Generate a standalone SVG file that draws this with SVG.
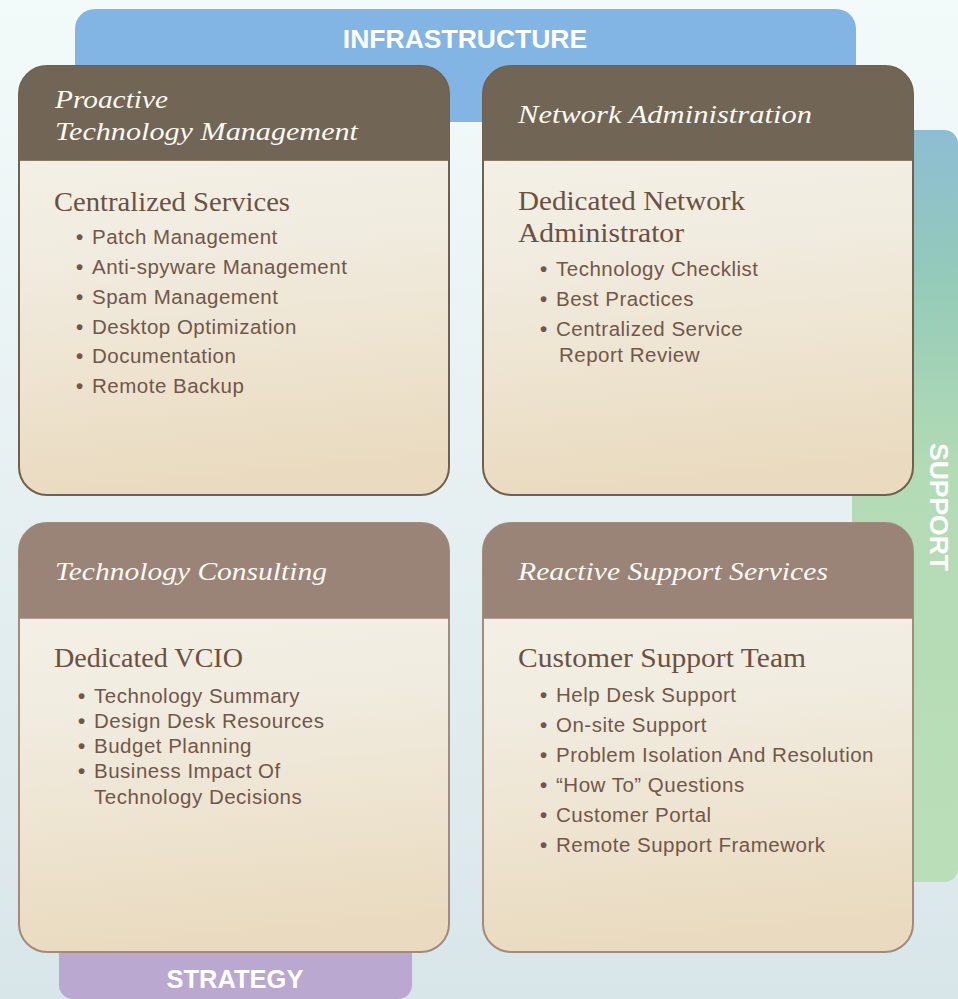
<svg xmlns="http://www.w3.org/2000/svg" width="958" height="999" viewBox="0 0 958 999">
<defs>
<linearGradient id="bg" x1="0" y1="0" x2="0" y2="1">
<stop offset="0" stop-color="#f3fafa"/>
<stop offset="1" stop-color="#d9e6e9"/>
</linearGradient>
<linearGradient id="sup" x1="0" y1="0" x2="0" y2="1">
<stop offset="0" stop-color="#8dbdd3"/>
<stop offset="0.2" stop-color="#94cbb8"/>
<stop offset="0.45" stop-color="#b3dbb5"/>
<stop offset="1" stop-color="#badeb8"/>
</linearGradient>
<linearGradient id="body" x1="0" y1="0" x2="0.1" y2="1">
<stop offset="0" stop-color="#f5f3e9"/>
<stop offset="0.45" stop-color="#f1ece0"/>
<stop offset="1" stop-color="#eadbc0"/>
</linearGradient>
<style>
.bar{font-family:"Liberation Sans",Arial,sans-serif;font-weight:bold;fill:#ffffff;font-size:26.5px}
.hd{font-family:"Liberation Serif","Times New Roman",serif;font-style:italic;fill:#fbf9f3;font-size:26px}
.sh{font-family:"Liberation Serif","Times New Roman",serif;fill:#6b5142;font-size:27px}
.bl{font-family:"Liberation Sans",Arial,sans-serif;fill:#715749;font-size:20.5px;letter-spacing:0.5px}
.dot{font-weight:bold}
.cardT{fill:url(#body);stroke:#6f604f;stroke-width:2}
.cardB{fill:url(#body);stroke:#a08b7d;stroke-width:2}
.hT{fill:#716556}
.hB{fill:#9a8477}
</style>
</defs>
<rect x="0" y="0" width="958" height="999" fill="url(#bg)"/>
<g id="infrastructure">
<rect x="75" y="9" width="781" height="113" rx="20" fill="#82b5e4"/>
<text class="bar" x="465" y="48" text-anchor="middle">INFRASTRUCTURE</text>
</g>
<g id="support">
<rect x="852" y="130" width="106" height="752" rx="14" fill="url(#sup)"/>
<text class="bar" transform="translate(930,507) rotate(90)" text-anchor="middle">SUPPORT</text>
</g>
<g id="strategy">
<rect x="59" y="900" width="353" height="99" rx="14" fill="#bba8d1"/>
<text class="bar" x="235" y="988" text-anchor="middle" style="font-size:25.5px">STRATEGY</text>
</g>
<g id="connectors"></g>
<g id="proactive">
<rect class="cardT" x="19" y="66" width="430" height="429" rx="28"/>
<path class="hT" d="M19,160 V94 A28,28 0 0 1 47,66 H421 A28,28 0 0 1 449,94 V160 Z"/>
<line x1="20" y1="160.5" x2="448" y2="160.5" stroke="#8a7a68" stroke-width="1"/>
<text class="hd" x="55" y="108" textLength="113" lengthAdjust="spacingAndGlyphs">Proactive</text>
<text class="hd" x="55" y="140" textLength="303" lengthAdjust="spacingAndGlyphs">Technology Management</text>
<text class="sh" x="54" y="211" textLength="236" lengthAdjust="spacingAndGlyphs">Centralized Services</text>
<g class="bl">
<text class="dot" x="76" y="244">•</text><text x="92" y="244">Patch Management</text>
<text class="dot" x="76" y="274">•</text><text x="92" y="274">Anti-spyware Management</text>
<text class="dot" x="76" y="304">•</text><text x="92" y="304">Spam Management</text>
<text class="dot" x="76" y="334">•</text><text x="92" y="334">Desktop Optimization</text>
<text class="dot" x="76" y="363">•</text><text x="92" y="363">Documentation</text>
<text class="dot" x="76" y="393">•</text><text x="92" y="393">Remote Backup</text>
</g>
</g>
<g id="network">
<rect class="cardT" x="483" y="66" width="430" height="429" rx="28"/>
<path class="hT" d="M483,160 V94 A28,28 0 0 1 511,66 H885 A28,28 0 0 1 913,94 V160 Z"/>
<line x1="484" y1="160.5" x2="912" y2="160.5" stroke="#8a7a68" stroke-width="1"/>
<text class="hd" x="518" y="123" textLength="294" lengthAdjust="spacingAndGlyphs">Network Administration</text>
<text class="sh" x="518" y="210" textLength="227" lengthAdjust="spacingAndGlyphs">Dedicated Network</text>
<text class="sh" x="518" y="242" textLength="166" lengthAdjust="spacingAndGlyphs">Administrator</text>
<g class="bl">
<text class="dot" x="540" y="276">•</text><text x="556" y="276">Technology Checklist</text>
<text class="dot" x="540" y="306">•</text><text x="556" y="306">Best Practices</text>
<text class="dot" x="540" y="336">•</text><text x="556" y="336">Centralized Service</text>
<text x="559" y="362">Report Review</text>
</g>
</g>
<g id="consulting">
<rect class="cardB" x="19" y="523" width="430" height="429" rx="28"/>
<path class="hB" d="M19,618 V551 A28,28 0 0 1 47,523 H421 A28,28 0 0 1 449,551 V618 Z"/>
<line x1="20" y1="618.5" x2="448" y2="618.5" stroke="#b3a194" stroke-width="1"/>
<text class="hd" x="55" y="580" textLength="272" lengthAdjust="spacingAndGlyphs">Technology Consulting</text>
<text class="sh" x="54" y="667" textLength="189" lengthAdjust="spacingAndGlyphs">Dedicated VCIO</text>
<g class="bl">
<text class="dot" x="78" y="703">•</text><text x="94" y="703">Technology Summary</text>
<text class="dot" x="78" y="728">•</text><text x="94" y="728">Design Desk Resources</text>
<text class="dot" x="78" y="753">•</text><text x="94" y="753">Budget Planning</text>
<text class="dot" x="78" y="778">•</text><text x="94" y="778">Business Impact Of</text>
<text x="94" y="804">Technology Decisions</text>
</g>
</g>
<g id="reactive">
<rect class="cardB" x="483" y="523" width="430" height="429" rx="28"/>
<path class="hB" d="M483,618 V551 A28,28 0 0 1 511,523 H885 A28,28 0 0 1 913,551 V618 Z"/>
<line x1="484" y1="618.5" x2="912" y2="618.5" stroke="#b3a194" stroke-width="1"/>
<text class="hd" x="518" y="580" textLength="310" lengthAdjust="spacingAndGlyphs">Reactive Support Services</text>
<text class="sh" x="518" y="667" textLength="288" lengthAdjust="spacingAndGlyphs">Customer Support Team</text>
<g class="bl">
<text class="dot" x="540" y="702">•</text><text x="556" y="702">Help Desk Support</text>
<text class="dot" x="540" y="732">•</text><text x="556" y="732">On-site Support</text>
<text class="dot" x="540" y="762">•</text><text x="556" y="762">Problem Isolation And Resolution</text>
<text class="dot" x="540" y="792">•</text><text x="556" y="792">“How To” Questions</text>
<text class="dot" x="540" y="822">•</text><text x="556" y="822">Customer Portal</text>
<text class="dot" x="540" y="852">•</text><text x="556" y="852">Remote Support Framework</text>
</g>
</g>
</svg>
